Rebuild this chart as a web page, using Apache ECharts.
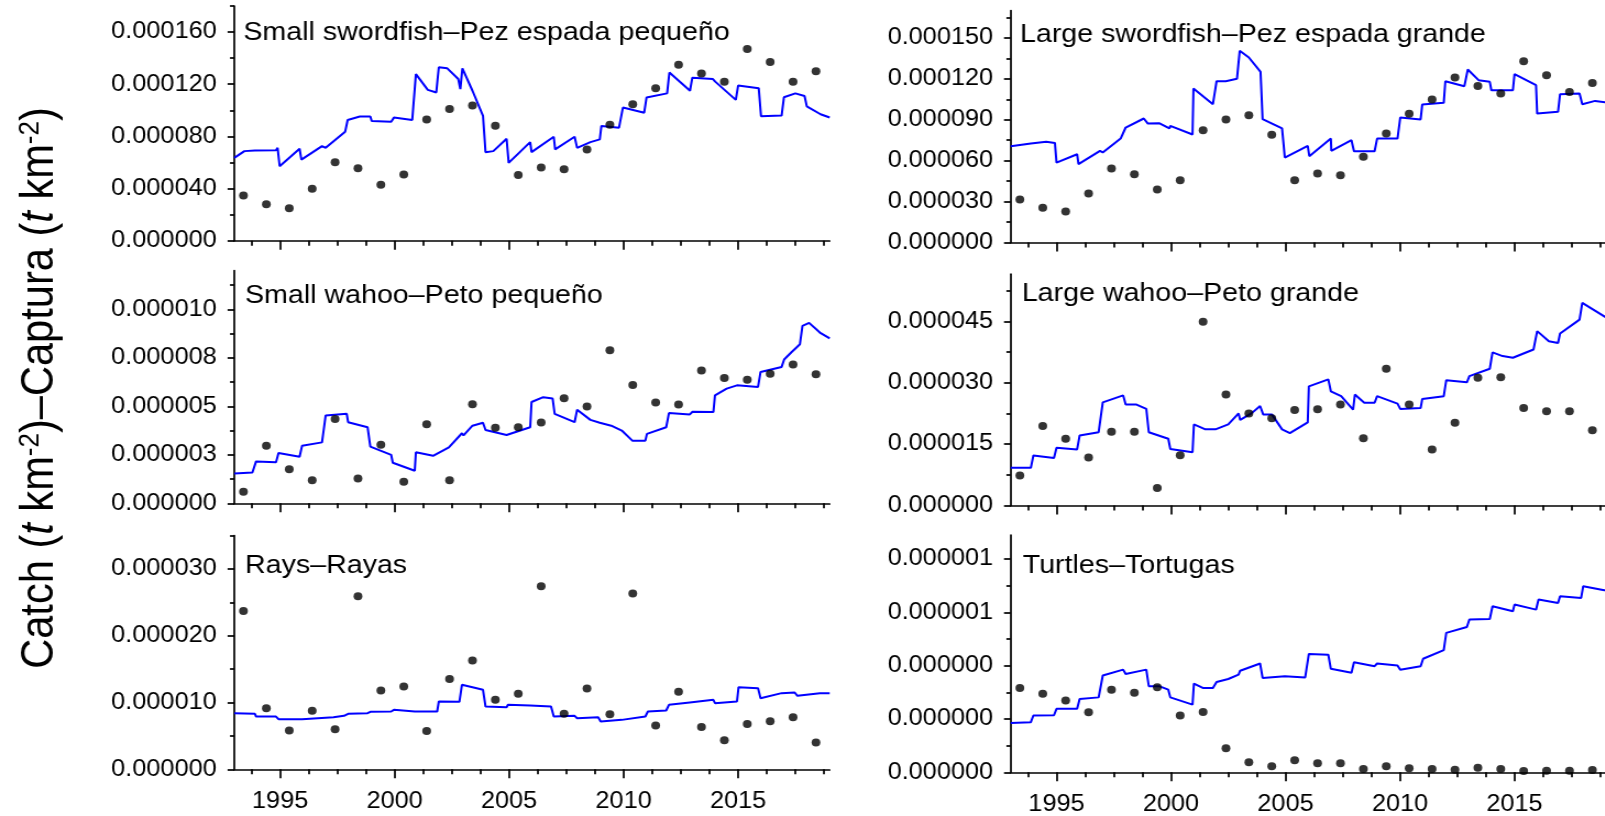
<!DOCTYPE html>
<html><head><meta charset="utf-8">
<script src="https://cdn.jsdelivr.net/npm/echarts@6/dist/echarts.min.js"></script>
<style>
html,body{margin:0;padding:0;background:#fff;overflow:hidden}
#wrap{width:1605px;height:816px;overflow:hidden;position:relative;background:#fff}
#chart{width:1459px;height:816px;transform:scaleX(1.1);transform-origin:0 0}
</style></head><body><div id="wrap"><div id="chart"></div></div>
<script>
// ---------------- DATA ----------------
const yearMin = 1993, yearMax = 2019;
const xMajorTicks = [1995, 2000, 2005, 2010, 2015];
const xMinorTicks = [1993.75, 1996.25, 1997.5, 1998.75, 2001.25, 2002.5, 2003.75, 2006.25, 2007.5, 2008.75, 2011.25, 2012.5, 2013.75, 2016.25, 2017.5, 2018.75];
const obsYears = [1993.4, 1994.4, 1995.4, 1996.4, 1997.4, 1998.4, 1999.4, 2000.4, 2001.4, 2002.4, 2003.4, 2004.4, 2005.4, 2006.4, 2007.4, 2008.4, 2009.4, 2010.4, 2011.4, 2012.4, 2013.4, 2014.4, 2015.4, 2016.4, 2017.4, 2018.4];

const panelTitles = ['Small swordfish\u2013Pez espada peque\u00f1o', 'Large swordfish\u2013Pez espada grande', 'Small wahoo\u2013Peto peque\u00f1o', 'Large wahoo\u2013Peto grande', 'Rays\u2013Rayas', 'Turtles\u2013Tortugas'];

const yMaxes = [1.8e-4, 1.7e-4, 1.2e-5, 5.65e-5, 3.5e-5, 8.9e-7];
const yTicksSmallSword = [0, 4e-5, 8e-5, 1.2e-4, 1.6e-4];
const yLabelsSmallSword = ['0.000000', '0.000040', '0.000080', '0.000120', '0.000160'];
const yMinorSmallSword = [2e-5, 6e-5, 1e-4, 1.4e-4, 1.8e-4];
const yTicksLargeSword = [0, 3e-5, 6e-5, 9e-5, 1.2e-4, 1.5e-4];
const yLabelsLargeSword = ['0.000000', '0.000030', '0.000060', '0.000090', '0.000120', '0.000150'];
const yMinorLargeSword = [1.5e-5, 4.5e-5, 7.5e-5, 1.05e-4, 1.35e-4, 1.65e-4];
const yTicksSmallWahoo = [0, 2.5e-6, 5e-6, 7.5e-6, 1e-5];
const yLabelsSmallWahoo = ['0.000000', '0.000003', '0.000005', '0.000008', '0.000010'];
const yMinorSmallWahoo = [1.25e-6, 3.75e-6, 6.25e-6, 8.75e-6, 1.125e-5];
const yTicksLargeWahoo = [0, 1.5e-5, 3e-5, 4.5e-5];
const yLabelsLargeWahoo = ['0.000000', '0.000015', '0.000030', '0.000045'];
const yMinorLargeWahoo = [7.5e-6, 2.25e-5, 3.75e-5, 5.25e-5];
const yTicksRays = [0, 1e-5, 2e-5, 3e-5];
const yLabelsRays = ['0.000000', '0.000010', '0.000020', '0.000030'];
const yMinorRays = [5e-6, 1.5e-5, 2.5e-5, 3.5e-5];
const yTicksTurtles = [0, 2e-7, 4e-7, 6e-7, 8e-7];
const yLabelsTurtles = ['0.000000', '0.000000', '0.000000', '0.000001', '0.000001'];
const yMinorTurtles = [1e-7, 3e-7, 5e-7, 7e-7];

// observed catches (dots)
const obsSmallSword = [3.47e-5, 2.80e-5, 2.49e-5, 3.99e-5, 6.02e-5, 5.56e-5, 4.30e-5, 5.07e-5, 9.3e-5, 10.11e-5, 10.37e-5, 8.82e-5, 5.04e-5, 5.61e-5, 5.48e-5, 7.00e-5, 8.90e-5, 10.47e-5, 11.70e-5, 13.50e-5, 12.83e-5, 12.19e-5, 14.71e-5, 13.71e-5, 12.19e-5, 13.0e-5];
const obsLargeSword = [3.15e-5, 2.54e-5, 2.27e-5, 3.59e-5, 5.42e-5, 5.01e-5, 3.88e-5, 4.57e-5, 8.23e-5, 9.01e-5, 9.33e-5, 7.89e-5, 4.57e-5, 5.06e-5, 4.93e-5, 6.28e-5, 7.99e-5, 9.43e-5, 10.48e-5, 12.09e-5, 11.48e-5, 10.92e-5, 13.29e-5, 12.26e-5, 11.04e-5, 11.7e-5];
const obsSmallWahoo = [0.60e-6, 2.97e-6, 1.76e-6, 1.19e-6, 4.35e-6, 1.28e-6, 3.02e-6, 1.11e-6, 4.08e-6, 1.19e-6, 5.11e-6, 3.89e-6, 3.92e-6, 4.16e-6, 5.42e-6, 4.99e-6, 7.89e-6, 6.10e-6, 5.20e-6, 5.09e-6, 6.84e-6, 6.46e-6, 6.37e-6, 6.68e-6, 7.15e-6, 6.65e-6];
const obsLargeWahoo = [0.73e-5, 1.94e-5, 1.63e-5, 1.17e-5, 1.80e-5, 1.80e-5, 0.43e-5, 1.23e-5, 4.49e-5, 2.71e-5, 2.25e-5, 2.13e-5, 2.33e-5, 2.35e-5, 2.47e-5, 1.64e-5, 3.34e-5, 2.47e-5, 1.37e-5, 2.02e-5, 3.12e-5, 3.13e-5, 2.38e-5, 2.30e-5, 2.30e-5, 1.84e-5];
const obsRays = [2.37e-5, 0.915e-5, 0.58e-5, 0.875e-5, 0.60e-5, 2.59e-5, 1.18e-5, 1.24e-5, 0.575e-5, 1.35e-5, 1.63e-5, 1.04e-5, 1.13e-5, 2.74e-5, 0.83e-5, 1.21e-5, 0.825e-5, 2.63e-5, 0.655e-5, 1.16e-5, 0.635e-5, 0.435e-5, 0.68e-5, 0.72e-5, 0.78e-5, 0.40e-5];
const obsTurtles = [3.16e-7, 2.95e-7, 2.69e-7, 2.25e-7, 3.10e-7, 2.98e-7, 3.19e-7, 2.13e-7, 2.26e-7, 0.90e-7, 0.375e-7, 0.225e-7, 0.45e-7, 0.34e-7, 0.34e-7, 0.125e-7, 0.225e-7, 0.15e-7, 0.125e-7, 0.10e-7, 0.175e-7, 0.125e-7, 0.05e-7, 0.06e-7, 0.06e-7, 0.09e-7];

// model-predicted catches (blue lines): [year, value]
const predSmallSword = [[1993.0,6.35e-5],[1993.44,6.87e-5],[1993.9,6.92e-5],[1994.82,6.94e-5],[1994.89,7.12e-5],[1994.98,5.71e-5],[1995.85,7.05e-5],[1995.93,6.22e-5],[1996.83,7.25e-5],[1996.99,7.12e-5],[1997.84,8.36e-5],[1997.95,9.26e-5],[1998.48,9.52e-5],[1998.94,9.52e-5],[1999.0,9.18e-5],[1999.85,9.13e-5],[1999.97,9.44e-5],[2000.77,9.26e-5],[2000.93,12.78e-5],[2001.45,11.57e-5],[2001.82,11.37e-5],[2001.93,13.3e-5],[2002.3,13.22e-5],[2002.78,12.4e-5],[2002.87,11.63e-5],[2002.96,13.22e-5],[2003.4,11.5e-5],[2003.86,9.57e-5],[2003.97,6.79e-5],[2004.31,6.87e-5],[2004.89,7.82e-5],[2004.98,5.97e-5],[2005.92,7.56e-5],[2005.98,6.79e-5],[2006.95,7.97e-5],[2007.01,7.0e-5],[2007.86,7.97e-5],[2007.97,7.12e-5],[2008.55,7.56e-5],[2008.96,7.77e-5],[2009.03,8.8e-5],[2009.8,8.67e-5],[2009.97,10.21e-5],[2010.9,9.82e-5],[2011.0,10.98e-5],[2011.9,11.3e-5],[2012.0,12.9e-5],[2012.9,11.5e-5],[2013.0,12.5e-5],[2013.9,12.4e-5],[2014.0,12.2e-5],[2014.9,10.8e-5],[2015.0,11.9e-5],[2015.9,11.7e-5],[2016.0,9.55e-5],[2016.9,9.6e-5],[2017.0,11.0e-5],[2017.5,11.3e-5],[2017.9,11.1e-5],[2018.0,10.3e-5],[2018.6,9.7e-5],[2019.0,9.45e-5]];
const predLargeSword = [[1993.0,7.06e-5],[1993.88,7.26e-5],[1994.55,7.38e-5],[1994.93,7.3e-5],[1995.0,5.86e-5],[1995.9,6.47e-5],[1995.96,5.74e-5],[1996.9,6.72e-5],[1997.02,6.6e-5],[1997.8,7.62e-5],[1998.02,8.43e-5],[1998.81,9.09e-5],[1998.99,8.72e-5],[1999.48,8.75e-5],[1999.93,8.36e-5],[1999.97,8.55e-5],[2000.94,7.92e-5],[2000.98,11.29e-5],[2001.83,10.14e-5],[2001.99,11.82e-5],[2002.39,11.82e-5],[2002.88,12.0e-5],[2003.0,14.05e-5],[2003.4,13.56e-5],[2003.91,12.51e-5],[2004.0,9.04e-5],[2004.85,8.36e-5],[2004.97,6.23e-5],[2005.97,7.08e-5],[2006.04,6.33e-5],[2006.98,7.62e-5],[2007.0,6.72e-5],[2007.88,7.5e-5],[2007.99,6.69e-5],[2008.89,6.69e-5],[2009.0,7.62e-5],[2009.89,7.62e-5],[2010.01,9.16e-5],[2010.9,9.02e-5],[2010.97,10.11e-5],[2011.91,10.24e-5],[2011.98,11.82e-5],[2012.81,11.46e-5],[2012.96,12.68e-5],[2013.43,11.9e-5],[2013.92,11.78e-5],[2013.99,11.16e-5],[2014.93,11.16e-5],[2015.0,12.34e-5],[2015.94,11.53e-5],[2015.99,9.45e-5],[2016.9,9.58e-5],[2016.99,10.87e-5],[2017.84,10.92e-5],[2017.96,10.14e-5],[2018.52,10.38e-5],[2019.1,10.25e-5]];
const predSmallWahoo = [[1993.0,1.54e-6],[1993.79,1.59e-6],[1993.95,2.16e-6],[1994.82,2.11e-6],[1994.93,2.59e-6],[1995.85,2.4e-6],[1995.96,2.97e-6],[1996.83,3.14e-6],[1996.99,4.53e-6],[1997.91,4.61e-6],[1997.97,4.18e-6],[1998.82,3.92e-6],[1998.94,2.92e-6],[1999.85,2.5e-6],[1999.92,2.09e-6],[2000.88,1.68e-6],[2000.93,2.63e-6],[2001.68,2.45e-6],[2002.37,2.88e-6],[2002.94,3.61e-6],[2003.01,3.5e-6],[2003.4,4.0e-6],[2003.86,4.15e-6],[2003.97,3.78e-6],[2004.89,3.52e-6],[2005.92,3.92e-6],[2005.98,5.22e-6],[2006.49,5.47e-6],[2006.9,5.4e-6],[2006.99,4.61e-6],[2007.86,4.18e-6],[2007.97,4.82e-6],[2008.55,4.3e-6],[2008.96,4.15e-6],[2009.46,4.0e-6],[2009.92,3.75e-6],[2010.38,3.23e-6],[2010.95,3.23e-6],[2011.02,3.58e-6],[2011.86,3.92e-6],[2011.98,4.65e-6],[2012.89,4.58e-6],[2013.01,4.72e-6],[2013.92,4.7e-6],[2013.99,5.56e-6],[2014.5,5.91e-6],[2014.95,6.08e-6],[2015.87,6.0e-6],[2015.98,6.77e-6],[2016.9,7.03e-6],[2017.01,7.41e-6],[2017.35,7.81e-6],[2017.7,8.2e-6],[2017.81,9.14e-6],[2018.1,9.3e-6],[2018.57,8.8e-6],[2019.0,8.5e-6]];
const predLargeWahoo = [[1993.0,0.92e-5],[1993.88,0.92e-5],[1993.99,1.22e-5],[1994.89,1.16e-5],[1995.0,1.41e-5],[1995.9,1.37e-5],[1996.01,1.71e-5],[1996.84,1.79e-5],[1997.02,2.52e-5],[1997.91,2.69e-5],[1998.02,2.47e-5],[1998.47,2.47e-5],[1998.92,2.36e-5],[1999.03,1.79e-5],[1999.88,1.63e-5],[1999.97,1.38e-5],[2000.94,1.30e-5],[2001.0,1.98e-5],[2001.5,1.86e-5],[2001.94,1.86e-5],[2002.5,1.98e-5],[2002.95,2.25e-5],[2003.02,2.09e-5],[2003.51,2.25e-5],[2003.89,2.43e-5],[2004.03,2.22e-5],[2004.41,2.22e-5],[2004.85,1.86e-5],[2005.19,1.77e-5],[2005.97,2.03e-5],[2006.02,2.91e-5],[2006.87,3.08e-5],[2006.98,2.79e-5],[2007.43,2.67e-5],[2007.95,2.34e-5],[2008.03,2.71e-5],[2008.44,2.51e-5],[2008.89,2.51e-5],[2009.0,2.67e-5],[2009.89,2.49e-5],[2010.01,2.36e-5],[2010.9,2.38e-5],[2010.97,2.6e-5],[2011.91,2.67e-5],[2012.02,3.06e-5],[2012.92,3.01e-5],[2013.03,3.16e-5],[2013.92,3.34e-5],[2014.04,3.74e-5],[2014.48,3.65e-5],[2014.93,3.61e-5],[2015.0,3.65e-5],[2015.83,3.81e-5],[2015.99,4.26e-5],[2016.5,4.01e-5],[2016.9,3.97e-5],[2016.99,4.2e-5],[2017.84,4.54e-5],[2017.96,4.95e-5],[2018.92,4.62e-5],[2019.1,4.55e-5]];
const predRays = [[1993.0,8.4e-6],[1993.9,8.3e-6],[1993.95,7.9e-6],[1994.82,7.9e-6],[1994.93,7.5e-6],[1995.96,7.5e-6],[1997.33,7.8e-6],[1997.79,8.0e-6],[1997.97,8.3e-6],[1998.82,8.4e-6],[1998.94,8.6e-6],[1999.85,8.65e-6],[1999.97,8.9e-6],[2000.88,8.65e-6],[2001.86,8.65e-6],[2001.93,10.15e-6],[2002.83,10.1e-6],[2002.94,12.65e-6],[2003.86,11.9e-6],[2003.97,9.4e-6],[2004.89,9.3e-6],[2004.95,9.65e-6],[2005.92,9.55e-6],[2006.83,9.4e-6],[2006.95,7.9e-6],[2007.86,8.0e-6],[2007.97,7.65e-6],[2008.89,7.8e-6],[2009.0,7.15e-6],[2009.92,7.4e-6],[2010.95,7.9e-6],[2011.06,8.65e-6],[2011.86,8.8e-6],[2011.98,9.65e-6],[2012.89,10.0e-6],[2013.92,10.4e-6],[2013.99,9.9e-6],[2014.95,10.15e-6],[2015.02,12.3e-6],[2015.87,12.15e-6],[2015.98,10.65e-6],[2016.9,11.4e-6],[2017.47,11.5e-6],[2017.59,11.0e-6],[2018.57,11.4e-6],[2019.0,11.4e-6]];
const predTurtles = [[1993.0,1.85e-7],[1993.88,1.88e-7],[1993.99,2.13e-7],[1994.89,2.14e-7],[1995.0,2.38e-7],[1995.9,2.38e-7],[1996.01,2.75e-7],[1996.84,2.81e-7],[1997.02,3.63e-7],[1997.91,3.85e-7],[1998.02,3.69e-7],[1998.92,3.85e-7],[1999.03,3.23e-7],[1999.48,3.23e-7],[1999.88,3.1e-7],[1999.97,2.81e-7],[2000.94,2.54e-7],[2001.0,3.33e-7],[2001.41,3.16e-7],[2001.83,3.16e-7],[2001.99,3.39e-7],[2002.5,3.5e-7],[2002.95,3.66e-7],[2003.02,3.81e-7],[2003.89,4.08e-7],[2004.0,3.54e-7],[2004.97,3.6e-7],[2005.86,3.56e-7],[2006.02,4.44e-7],[2006.87,4.41e-7],[2006.98,3.88e-7],[2007.88,3.73e-7],[2007.99,4.13e-7],[2008.89,3.98e-7],[2009.0,4.08e-7],[2009.89,4.01e-7],[2010.01,3.85e-7],[2010.9,3.98e-7],[2011.01,4.26e-7],[2011.91,4.58e-7],[2012.02,5.23e-7],[2012.92,5.45e-7],[2013.03,5.73e-7],[2013.92,5.75e-7],[2014.04,6.23e-7],[2014.93,6.04e-7],[2015.0,6.29e-7],[2015.94,6.1e-7],[2016.05,6.48e-7],[2016.9,6.35e-7],[2016.99,6.6e-7],[2017.91,6.54e-7],[2018.0,6.98e-7],[2018.92,6.83e-7],[2019.1,6.8e-7]];

// ---------------- LAYOUT (final pixels) ----------------
const SX = 1.1;
const FONT = "'Liberation Sans', Arial, Helvetica, sans-serif";
const PANEL_W = 595.4;
const layout = [
  {left: 234.3, top: 6, bottom: 240.7, tx: 243.3, ty: 32.5, xlab: false},
  {left: 1010.7, top: 10.6, bottom: 242.5, tx: 1020, ty: 35.2, xlab: false},
  {left: 234.3, top: 270.5, bottom: 503.3, tx: 245, ty: 295.8, xlab: false},
  {left: 1010.7, top: 274.2, bottom: 505.5, tx: 1021.8, ty: 294, xlab: false},
  {left: 234.3, top: 535.5, bottom: 769.3, tx: 245, ty: 566, xlab: true},
  {left: 1010.7, top: 535, bottom: 772.3, tx: 1022.7, ty: 566, xlab: true}
];
const panels = [
  {obs: obsSmallSword, pred: predSmallSword, ticks: yTicksSmallSword, labels: yLabelsSmallSword, minor: yMinorSmallSword},
  {obs: obsLargeSword, pred: predLargeSword, ticks: yTicksLargeSword, labels: yLabelsLargeSword, minor: yMinorLargeSword},
  {obs: obsSmallWahoo, pred: predSmallWahoo, ticks: yTicksSmallWahoo, labels: yLabelsSmallWahoo, minor: yMinorSmallWahoo},
  {obs: obsLargeWahoo, pred: predLargeWahoo, ticks: yTicksLargeWahoo, labels: yLabelsLargeWahoo, minor: yMinorLargeWahoo},
  {obs: obsRays, pred: predRays, ticks: yTicksRays, labels: yLabelsRays, minor: yMinorRays},
  {obs: obsTurtles, pred: predTurtles, ticks: yTicksTurtles, labels: yLabelsTurtles, minor: yMinorTurtles}
];

const grid = [], xAxis = [], yAxis = [], series = [], graphic = [];
const axisLineStyle = {color: '#000', width: 1.7};
panels.forEach((p, i) => {
  const L = layout[i];
  grid.push({left: L.left / SX, top: L.top, width: PANEL_W / SX, height: L.bottom - L.top, outerBoundsMode: 'none', containLabel: false});
  xAxis.push({
    type: 'value', gridIndex: i, min: yearMin, max: yearMax, position: 'bottom',
    axisLine: {show: true, onZero: false, lineStyle: axisLineStyle},
    axisTick: {show: true, customValues: xMajorTicks, length: 9, lineStyle: axisLineStyle},
    axisLabel: {show: L.xlab, customValues: xMajorTicks, formatter: v => String(Math.round(v)), margin: 21, fontSize: 23, fontFamily: FONT, color: '#000'},
    splitLine: {show: false}
  });
  xAxis.push({
    type: 'value', gridIndex: i, min: yearMin, max: yearMax, position: 'bottom',
    axisLine: {show: false, onZero: false},
    axisTick: {show: true, customValues: xMinorTicks, length: 5, lineStyle: axisLineStyle},
    axisLabel: {show: false}, splitLine: {show: false}
  });
  const ticks = p.ticks, labels = p.labels;
  yAxis.push({
    type: 'value', gridIndex: i, min: 0, max: yMaxes[i], position: 'left',
    axisLine: {show: true, onZero: false, lineStyle: axisLineStyle},
    axisTick: {show: true, customValues: ticks, length: 6.1, lineStyle: axisLineStyle},
    axisLabel: {show: true, customValues: ticks, margin: 16, fontSize: 23, fontFamily: FONT, color: '#000',
      formatter: v => { let k = 0, best = Infinity; ticks.forEach((t, j) => { const d = Math.abs(t - v); if (d < best) { best = d; k = j; } }); return labels[k]; }},
    splitLine: {show: false}
  });
  yAxis.push({
    type: 'value', gridIndex: i, min: 0, max: yMaxes[i], position: 'left',
    axisLine: {show: false, onZero: false},
    axisTick: {show: true, customValues: p.minor, length: 3.9, lineStyle: axisLineStyle},
    axisLabel: {show: false}, splitLine: {show: false}
  });
  series.push({
    type: 'line', xAxisIndex: 2 * i, yAxisIndex: 2 * i, data: p.pred, showSymbol: false, symbol: 'none',
    lineStyle: {color: '#0000ff', width: 2}, clip: true, z: 2, silent: true
  });
  series.push({
    type: 'scatter', xAxisIndex: 2 * i, yAxisIndex: 2 * i, data: obsYears.map((y, k) => [y, p.obs[k]]),
    symbol: 'circle', symbolSize: 8, itemStyle: {color: '#000'}, z: 3, silent: true
  });
  graphic.push({
    type: 'text', x: L.tx / SX, y: L.ty, z: 10,
    style: {text: panelTitles[i], fontSize: 26, fontFamily: FONT, fill: '#000', align: 'left', verticalAlign: 'middle'}
  });
});

graphic.push({
  type: 'text', x: 39.7 / SX, y: 388, rotation: Math.PI / 2, z: 10,
  style: {
    text: 'Catch ({i|t} km{s|-2})\u2013Captura ({i|t} km{s|-2})',
    fontSize: 41.6, fontFamily: FONT, fill: '#000', align: 'center', verticalAlign: 'middle',
    rich: {
      i: {fontSize: 41.6, fontFamily: FONT, fontStyle: 'italic', fill: '#000'},
      s: {fontSize: 26, fontFamily: FONT, fill: '#000', verticalAlign: 'top'}
    }
  }
});

const chart = echarts.init(document.getElementById('chart'), null, {renderer: 'canvas'});
chart.setOption({
  animation: false,
  backgroundColor: '#fff',
  grid, xAxis, yAxis, series, graphic
});
</script></body></html>
